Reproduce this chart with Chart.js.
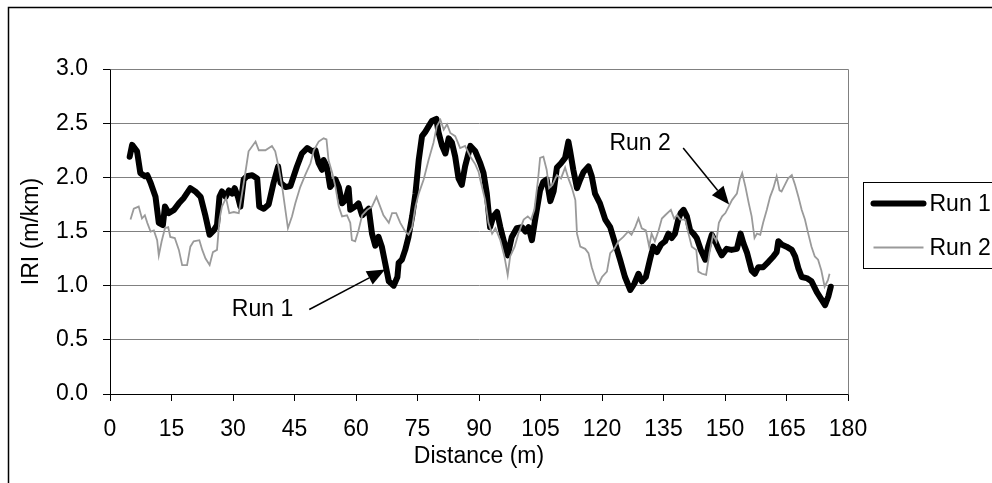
<!DOCTYPE html>
<html>
<head>
<meta charset="utf-8">
<script src="https://cdn.jsdelivr.net/npm/chart.js@4"></script>
<style>
  html, body { margin: 0; padding: 0; background: #fff; }
  #wrap { width: 992px; height: 483px; }
</style>
</head>
<body>
<div id="wrap"><canvas id="iriChart" width="992" height="483"></canvas></div>
<script>
// IRI profiles along the section, two runs
const run1Distance = [4.8, 5.4, 6.6, 7.4, 8.5, 9.1, 9.9, 11.1, 11.9, 12.9, 13.4, 14.3, 15.6, 16.8, 18.0, 19.6, 20.8, 22.1, 23.3, 24.3, 25.3, 26.1, 26.7, 27.3, 28.2, 29.0, 29.8, 30.4, 31.2, 31.8, 32.6, 33.4, 34.7, 35.9, 36.4, 37.5, 38.7, 39.9, 41.0, 41.6, 42.8, 44.0, 45.6, 46.8, 48.1, 49.3, 50.1, 50.9, 51.7, 52.1, 52.9, 53.7, 55.0, 55.8, 56.6, 57.4, 58.2, 58.6, 59.8, 60.6, 61.5, 62.3, 63.1, 63.9, 64.7, 65.5, 66.3, 67.1, 68.0, 69.2, 70.1, 70.4, 71.2, 72.0, 72.8, 73.7, 74.5, 75.3, 76.1, 76.9, 77.7, 78.5, 79.6, 80.1, 81.0, 81.8, 82.6, 83.4, 84.2, 85.0, 85.8, 86.6, 87.9, 89.1, 90.3, 91.1, 91.9, 92.7, 93.5, 94.4, 95.2, 96.0, 97.0, 98.0, 99.2, 100.5, 101.3, 102.1, 102.9, 103.7, 104.9, 105.7, 106.5, 107.4, 108.2, 109.0, 110.0, 111.0, 111.8, 112.2, 113.0, 113.9, 114.7, 115.5, 116.7, 117.5, 118.3, 119.5, 120.8, 122.0, 123.2, 124.4, 125.6, 126.9, 127.9, 128.9, 129.7, 130.7, 131.7, 132.5, 133.4, 134.4, 135.4, 136.2, 137.0, 137.8, 138.6, 139.2, 139.9, 140.7, 141.5, 142.3, 143.1, 144.1, 145.2, 145.9, 146.8, 147.6, 148.4, 149.2, 150.4, 151.6, 152.9, 153.8, 154.5, 155.4, 156.5, 157.3, 158.1, 159.3, 160.6, 161.8, 162.6, 163.0, 163.8, 165.0, 166.3, 167.1, 167.9, 168.7, 169.9, 171.1, 172.4, 173.4, 174.4, 175.2, 175.8];
const run1Iri = [2.19, 2.30, 2.24, 2.04, 2.01, 2.02, 1.95, 1.82, 1.58, 1.56, 1.73, 1.67, 1.70, 1.76, 1.81, 1.90, 1.87, 1.82, 1.64, 1.47, 1.51, 1.56, 1.82, 1.87, 1.82, 1.88, 1.85, 1.90, 1.82, 1.73, 1.98, 2.01, 2.02, 1.99, 1.73, 1.71, 1.75, 1.95, 2.10, 1.95, 1.91, 1.92, 2.10, 2.22, 2.27, 2.24, 2.25, 2.13, 2.07, 2.16, 2.10, 1.91, 1.98, 1.91, 1.76, 1.79, 1.90, 1.70, 1.73, 1.76, 1.65, 1.68, 1.71, 1.48, 1.37, 1.45, 1.36, 1.21, 1.04, 1.00, 1.08, 1.21, 1.24, 1.33, 1.45, 1.64, 1.85, 2.16, 2.38, 2.42, 2.47, 2.52, 2.54, 2.42, 2.29, 2.22, 2.36, 2.32, 2.19, 1.99, 1.93, 2.10, 2.29, 2.24, 2.13, 2.04, 1.85, 1.54, 1.64, 1.68, 1.54, 1.42, 1.28, 1.45, 1.53, 1.54, 1.50, 1.54, 1.42, 1.61, 1.88, 1.96, 1.98, 1.78, 1.87, 2.09, 2.13, 2.18, 2.33, 2.25, 2.07, 1.90, 1.98, 2.05, 2.10, 2.01, 1.85, 1.76, 1.61, 1.54, 1.39, 1.24, 1.08, 0.96, 1.02, 1.11, 1.04, 1.08, 1.24, 1.36, 1.31, 1.38, 1.41, 1.48, 1.44, 1.48, 1.61, 1.67, 1.70, 1.64, 1.51, 1.48, 1.44, 1.33, 1.24, 1.36, 1.47, 1.41, 1.34, 1.28, 1.34, 1.33, 1.34, 1.48, 1.39, 1.30, 1.14, 1.11, 1.17, 1.17, 1.22, 1.27, 1.31, 1.41, 1.38, 1.36, 1.33, 1.27, 1.16, 1.08, 1.07, 1.04, 0.94, 0.88, 0.82, 0.90, 0.99];

const run2Distance = [5.0, 5.8, 7.0, 7.8, 8.5, 9.1, 9.9, 10.7, 11.5, 11.9, 12.6, 13.4, 14.2, 14.7, 15.8, 16.8, 17.6, 18.8, 19.6, 20.4, 21.8, 22.5, 23.3, 24.3, 25.1, 26.1, 26.7, 27.3, 28.3, 29.1, 30.2, 31.4, 32.2, 33.0, 33.8, 35.5, 36.3, 37.9, 39.5, 40.3, 41.1, 42.0, 43.4, 44.4, 45.2, 46.4, 47.6, 48.9, 49.7, 50.9, 52.1, 52.8, 53.3, 54.2, 55.0, 55.8, 56.6, 57.8, 58.6, 59.0, 59.8, 60.6, 61.5, 62.7, 63.9, 65.0, 65.9, 66.7, 68.0, 68.8, 69.8, 70.8, 72.0, 72.8, 73.7, 74.5, 75.3, 76.5, 77.7, 78.9, 79.7, 80.6, 81.4, 82.2, 83.0, 84.2, 85.4, 86.6, 87.9, 89.1, 89.9, 90.3, 91.5, 92.3, 93.2, 94.0, 95.2, 96.2, 97.0, 97.6, 98.7, 99.6, 100.9, 101.9, 102.7, 103.5, 104.4, 104.9, 105.7, 106.5, 107.1, 107.9, 109.0, 110.0, 111.0, 111.8, 112.6, 113.5, 113.9, 114.7, 115.9, 116.7, 117.5, 118.5, 119.1, 120.0, 121.2, 122.0, 123.0, 124.0, 125.2, 126.4, 127.2, 128.1, 128.9, 129.7, 130.7, 131.5, 132.1, 132.9, 133.8, 134.6, 135.4, 136.8, 137.6, 138.3, 139.1, 140.3, 141.1, 141.9, 143.0, 143.5, 144.4, 145.4, 146.2, 147.1, 147.9, 148.5, 149.3, 150.1, 150.9, 151.7, 152.9, 153.6, 154.2, 155.0, 155.8, 156.5, 157.2, 157.8, 158.6, 159.3, 160.2, 161.0, 161.8, 162.6, 163.3, 163.8, 164.6, 165.4, 166.3, 167.1, 167.9, 168.7, 169.5, 170.3, 171.1, 171.9, 172.7, 173.5, 174.3, 175.1, 175.5];
const run2Iri = [1.61, 1.71, 1.73, 1.62, 1.65, 1.58, 1.50, 1.51, 1.42, 1.28, 1.41, 1.53, 1.54, 1.45, 1.44, 1.33, 1.19, 1.19, 1.36, 1.41, 1.42, 1.33, 1.25, 1.19, 1.31, 1.33, 1.61, 1.73, 1.81, 1.67, 1.68, 1.67, 1.85, 2.04, 2.24, 2.33, 2.25, 2.25, 2.29, 2.24, 2.10, 1.91, 1.53, 1.64, 1.76, 1.91, 2.02, 2.13, 2.25, 2.33, 2.36, 2.35, 2.16, 2.04, 1.91, 1.73, 1.64, 1.65, 1.58, 1.42, 1.41, 1.51, 1.65, 1.70, 1.73, 1.82, 1.73, 1.65, 1.58, 1.67, 1.67, 1.58, 1.50, 1.47, 1.54, 1.73, 1.85, 1.98, 2.16, 2.32, 2.47, 2.53, 2.44, 2.49, 2.41, 2.38, 2.27, 2.29, 2.19, 2.12, 2.05, 1.98, 1.79, 1.58, 1.48, 1.53, 1.42, 1.27, 1.10, 1.27, 1.36, 1.48, 1.61, 1.64, 1.61, 1.70, 1.98, 2.18, 2.19, 2.07, 1.90, 1.93, 2.02, 1.99, 2.09, 1.99, 1.91, 1.79, 1.48, 1.36, 1.34, 1.30, 1.17, 1.05, 1.01, 1.08, 1.13, 1.30, 1.34, 1.41, 1.45, 1.50, 1.47, 1.54, 1.62, 1.53, 1.51, 1.36, 1.48, 1.41, 1.51, 1.62, 1.65, 1.70, 1.62, 1.65, 1.61, 1.61, 1.48, 1.36, 1.33, 1.13, 1.11, 1.10, 1.30, 1.47, 1.41, 1.58, 1.64, 1.67, 1.73, 1.79, 1.85, 1.98, 2.04, 1.91, 1.76, 1.64, 1.44, 1.48, 1.47, 1.58, 1.70, 1.82, 1.90, 2.01, 1.88, 1.87, 1.93, 1.99, 2.02, 1.93, 1.82, 1.70, 1.61, 1.48, 1.36, 1.27, 1.24, 1.14, 0.99, 1.05, 1.11];

const seriesNames = ["Run 1", "Run 2"];
const xTicks = [0, 15, 30, 45, 60, 75, 90, 105, 120, 135, 150, 165, 180];
const yTicks = [0, 0.5, 1, 1.5, 2, 2.5, 3];

const FONT = "'Liberation Sans', Arial, sans-serif";
const FONT_SIZE = 23;

// callouts pointing at each run: label position and arrow, in data units
const callouts = [
  { text: "Run 1", at: [37.2, 0.78], from: [48.6, 0.78], to: [67.1, 1.15] },
  { text: "Run 2", at: [129.3, 2.31], from: [139.8, 2.27], to: [151.0, 1.75] },
];

function toPoints(xs, ys) {
  return xs.map((x, i) => ({ x: x, y: ys[i] }));
}

// white page with the outer frame line
const framePlugin = {
  id: "frame",
  beforeDraw(chart) {
    const ctx = chart.ctx;
    ctx.save();
    ctx.fillStyle = "#fff";
    ctx.fillRect(0, 0, chart.width, chart.height);
    ctx.strokeStyle = "#000";
    ctx.lineWidth = 1.5;
    ctx.strokeRect(8.5, 7.5, chart.width + 50, chart.height + 50);
    ctx.restore();
  },
  beforeDatasetsDraw(chart) {
    // plot area outline (gray), axes are drawn over it
    const a = chart.chartArea;
    const ctx = chart.ctx;
    ctx.save();
    ctx.strokeStyle = "#808080";
    ctx.lineWidth = 1;
    ctx.beginPath();
    ctx.moveTo(Math.round(a.left) + 0.5, Math.round(a.top) + 0.5);
    ctx.lineTo(Math.round(a.right) + 0.5, Math.round(a.top) + 0.5);
    ctx.lineTo(Math.round(a.right) + 0.5, Math.round(a.bottom) + 0.5);
    ctx.stroke();
    ctx.restore();
  },
};

function drawArrow(ctx, x1, y1, x2, y2) {
  const ang = Math.atan2(y2 - y1, x2 - x1);
  const len = 18, half = 7.5;
  const bx = x2 - len * Math.cos(ang), by = y2 - len * Math.sin(ang);
  ctx.beginPath();
  ctx.moveTo(x1, y1);
  ctx.lineTo(bx, by);
  ctx.stroke();
  ctx.beginPath();
  ctx.moveTo(x2, y2);
  ctx.lineTo(bx + half * Math.sin(ang), by - half * Math.cos(ang));
  ctx.lineTo(bx - half * Math.sin(ang), by + half * Math.cos(ang));
  ctx.closePath();
  ctx.fill();
}

const calloutPlugin = {
  id: "callouts",
  afterDatasetsDraw(chart) {
    const ctx = chart.ctx;
    const xs = chart.scales.x, ys = chart.scales.y;
    ctx.save();
    ctx.fillStyle = "#000";
    ctx.strokeStyle = "#000";
    ctx.lineWidth = 1.5;
    ctx.font = FONT_SIZE + "px " + FONT;
    ctx.textAlign = "center";
    ctx.textBaseline = "middle";
    callouts.forEach((c) => {
      ctx.fillText(c.text, xs.getPixelForValue(c.at[0]), ys.getPixelForValue(c.at[1]));
      drawArrow(ctx,
        xs.getPixelForValue(c.from[0]), ys.getPixelForValue(c.from[1]),
        xs.getPixelForValue(c.to[0]), ys.getPixelForValue(c.to[1]));
    });
    ctx.restore();
  },
};

// legend box on the right, partly cut by the page edge
const legendPlugin = {
  id: "sideLegend",
  afterDraw(chart) {
    const ctx = chart.ctx;
    const left = 863.5, top = 182.5;
    ctx.save();
    ctx.strokeStyle = "#000";
    ctx.lineWidth = 1;
    ctx.strokeRect(left, top, 200, 86);
    ctx.font = FONT_SIZE + "px " + FONT;
    ctx.textAlign = "left";
    ctx.textBaseline = "middle";
    chart.data.datasets.forEach((ds, i) => {
      const y = top + 21 + i * 44;
      ctx.strokeStyle = ds.borderColor;
      ctx.lineWidth = ds.borderWidth;
      ctx.lineCap = i === 0 ? "round" : "butt";
      ctx.beginPath();
      ctx.moveTo(left + 10, y);
      ctx.lineTo(left + 60, y);
      ctx.stroke();
      ctx.fillStyle = "#000";
      ctx.fillText(seriesNames[i], left + 66, y + 1);
    });
    ctx.restore();
  },
};

document.addEventListener("DOMContentLoaded", function () {
  const ctx = document.getElementById("iriChart").getContext("2d");

  const data = {
    datasets: [
      {
        label: seriesNames[0],
        data: toPoints(run1Distance, run1Iri),
        borderColor: "#000000",
        borderWidth: 6,
        borderJoinStyle: "round",
        borderCapStyle: "round",
        pointRadius: 0,
        tension: 0,
        order: 2,
      },
      {
        label: seriesNames[1],
        data: toPoints(run2Distance, run2Iri),
        borderColor: "#9a9a9a",
        borderWidth: 1.8,
        pointRadius: 0,
        tension: 0,
        order: 1,
      },
    ],
  };

  const options = {
    responsive: false,
    animation: false,
    layout: { padding: { left: 0, top: 69, right: 144, bottom: 0 } },
    plugins: {
      legend: { display: false },
      tooltip: { enabled: false },
    },
    scales: {
      x: {
        type: "linear",
        min: 0,
        max: 180,
        afterFit: (scale) => { scale.height = 89; },
        afterBuildTicks: (scale) => { scale.ticks = xTicks.map((v) => ({ value: v })); },
        grid: {
          drawOnChartArea: false,
          drawTicks: true,
          tickLength: 7,
          color: "#000",
        },
        border: { color: "#000", width: 1 },
        ticks: {
          autoSkip: false,
          maxRotation: 0,
          padding: 15,
          color: "#000",
          font: { family: FONT, size: FONT_SIZE },
        },
        title: {
          display: true,
          text: "Distance (m)",
          color: "#000",
          padding: { top: 0, bottom: 13 },
          font: { family: FONT, size: FONT_SIZE },
        },
      },
      y: {
        min: 0,
        max: 3,
        afterFit: (scale) => { scale.width = 110; },
        afterBuildTicks: (scale) => { scale.ticks = yTicks.map((v) => ({ value: v })); },
        grid: {
          color: "#808080",
          tickColor: "#000",
          tickLength: 7,
        },
        border: { color: "#000", width: 1 },
        ticks: {
          padding: 15,
          color: "#000",
          font: { family: FONT, size: FONT_SIZE },
          callback: (v) => Number(v).toFixed(1),
        },
        title: {
          display: true,
          text: "IRI (m/km)",
          color: "#000",
          padding: { top: 18, bottom: 0 },
          font: { family: FONT, size: FONT_SIZE },
        },
      },
    },
  };

  new Chart(ctx, {
    type: "line",
    data: data,
    options: options,
    plugins: [framePlugin, calloutPlugin, legendPlugin],
  });
});
</script>
</body>
</html>
